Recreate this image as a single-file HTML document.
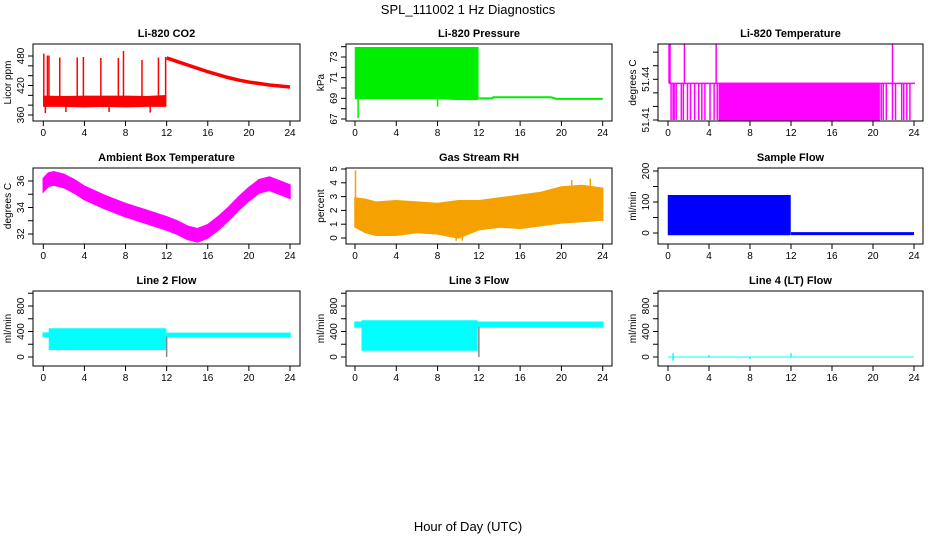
<!DOCTYPE html>
<html><head><meta charset="utf-8"><style>
html,body{margin:0;padding:0;background:#fff;}
svg{display:block;font-family:"Liberation Sans",Arial,sans-serif;}
</style></head><body>
<svg id="chart" width="936" height="540" viewBox="0 0 936 540">
<rect width="936" height="540" fill="#fff"/>
<text x="468" y="14" text-anchor="middle" font-size="13">SPL_111002  1 Hz Diagnostics</text>
<text x="468" y="531" text-anchor="middle" font-size="13">Hour of Day (UTC)</text>
</svg>
<script>
// ---- data ----
const xTicks = [0,4,8,12,16,20,24];
const panelTitles = ["Li-820 CO2","Li-820 Pressure","Li-820 Temperature","Ambient Box Temperature","Gas Stream RH","Sample Flow","Line 2 Flow","Line 3 Flow","Line 4 (LT) Flow"];
const yTitles = ["Licor ppm","kPa","degrees C","degrees C","percent","ml/min","ml/min","ml/min","ml/min"];
const yTicks = [[360,380,400,420,440,460,480],[67,68,69,70,71,72,73,74],[51.41,51.42,51.43,51.44,51.45,51.46],[32,33,34,35,36],[0,1,2,3,4,5],[0,50,100,150,200],[0,200,400,600,800,1000],[0,200,400,600,800,1000],[0,200,400,600,800,1000]];
const yLabels = [[360,420,480],[67,69,71,73],[51.41,51.44],[32,34,36],[0,1,2,3,4,5],[0,100,200],[0,400,800],[0,400,800],[0,400,800]];
const yRefLo = [360,67,51.41,32,0,0,0,0,0];
const yRefHi = [480,73,51.44,36,5,200,800,800,800];
const colors = ["#ff0000","#00ee00","#ff00ff","#ff00ff","#f5a200","#0000ff","#00ffff","#00ffff","#00ffff"];

// CO2
const co2BandT = [0.05,2,4,6,8,10,11.9];
const co2BandLo = [378,378,377,378,377,378,378];
const co2BandHi = [398,397,398,398,398,397,399];
const co2DecayT = [12,13,14,15,16,17,18,19,20,21,22,23,24];
const co2DecayV = [476,469,462,455,448,442,436,431,427,424,421,419,417];
const co2SpikeT = [0.05,0.4,0.55,1.6,3.3,3.9,5.6,7.3,7.8,9.6,11.2,11.9,0.2,2.2,6.4,10.4];
const co2SpikeV = [485,481,481,477,477,478,476,476,490,472,477,478,364,366,366,365];
// Pressure
const prT = [0.05,2,4,6,8,10,11.9];
const prLo = [69.0,69.0,69.0,69.0,69.0,68.9,68.9];
const prHi = [73.9,73.9,73.9,73.9,73.9,73.9,73.9];
const prAfterT = [12,13.3,13.4,19,19.5,24];
const prAfterV = [69.0,69.0,69.1,69.1,68.95,68.95];
const prSpikeT = [0.3,8.0];
const prSpikeV = [67.1,68.2];
// Li-820 temperature
const ltLevel = 51.437;
const ltFillT = [5.0,20.6];
const ltBarT = [0.3,0.5,0.6,0.8,1.3,1.5,1.9,2.2,2.6,3.0,3.3,3.6,4.1,4.5,4.8,20.8,21.0,21.3,21.9,22.2,22.8,23.0,23.3,23.6];
const ltSpikeT = [0.1,0.2,1.6,4.7,21.9];
const ltSpikeV = [51.466,51.466,51.466,51.466,51.466];
// Ambient
const ambT = [0,0.5,1,2,3,4,6,8,10,12,13,14,15,16,17,18,19,20,21,22,23,24];
const ambV = [35.7,36.1,36.2,36.0,35.6,35.1,34.4,33.8,33.3,32.8,32.5,32.1,31.9,32.2,32.8,33.5,34.3,35.0,35.6,35.8,35.5,35.2];
const ambHalf = 0.5;
// RH
const rhT = [0,1,2,4,6,8,10,12,14,16,18,20,22,24];
const rhLo = [0.8,0.4,0.2,0.2,0.4,0.3,0.0,0.6,0.8,0.7,0.9,1.1,1.2,1.3];
const rhHi = [2.9,2.8,2.6,2.7,2.6,2.5,2.7,2.7,2.9,3.1,3.3,3.7,3.8,3.6];
const rhSpikeT = [0.05,21,22.8,9.8,10.4];
const rhSpikeV = [4.9,4.2,4.3,-0.2,-0.2];
// Sample flow
const sfT = [0.05,11.9];
const sfLo = [-5,-5];
const sfHi = [120,120];
const sfAfterT = [12,24];
const sfAfterV = [-2,-2];
// Line 2
const l2T = [0,0.6,0.6,11.9,11.9,24];
const l2Lo = [320,320,120,120,320,320];
const l2Hi = [375,375,440,440,370,370];
const l2SpikeT = [12.0];
const l2SpikeV = [0];
// Line 3
const l3T = [0,0.7,0.7,11.8,11.8,24];
const l3Lo = [470,470,110,110,470,470];
const l3Hi = [545,545,565,565,545,545];
const l3SpikeT = [12.0];
const l3SpikeV = [0];
// Line 4
const l4T = [0,24];
const l4V = [0,0];
const l4SpikeT = [0.5,4,8,12];
const l4SpikeLo = [-60,-10,-30,-5];
const l4SpikeHi = [60,30,0,60];

// ---- layout ----
const cols = [{b0:33,b1:300,x0:43.3,x24:290},{b0:346,b1:612,x0:355,x24:602.7},{b0:658,b1:923,x0:668,x24:914}];
const rows = [{t:44,b:121,lo:[115,119,120],hi:[56,57,79.3]},{t:168,b:244,lo:[234,238,233],hi:[181,169,171]},{t:291,b:366,lo:[357,357,357],hi:[306,306,306]}];
const NS = "http://www.w3.org/2000/svg";
const svg = document.getElementById('chart');
function mk(tag, attrs, parent){const e=document.createElementNS(NS,tag);for(const k in attrs)e.setAttribute(k,attrs[k]);(parent||svg).appendChild(e);return e;}

const panels = [];
for(let i=0;i<9;i++){
  const c=cols[i%3], r=rows[Math.floor(i/3)], ri=i%3;
  const ylo=r.lo[ri], yhi=r.hi[ri];
  const xs = t => c.x0 + (t/24)*(c.x24-c.x0);
  const ys = v => ylo + (v-yRefLo[i])/(yRefHi[i]-yRefLo[i])*(yhi-ylo);
  const g = mk('g',{});
  
  
  const clip = mk('clipPath',{id:'cp'+i},g);
  mk('rect',{x:c.b0,y:r.t,width:c.b1-c.b0,height:r.b-r.t},clip);
  const plot = mk('g',{'clip-path':'url(#cp'+i+')'},g);
  
  
  panels.push({g,plot,xs,ys,c,r});
  const box = mk('rect',{x:c.b0,y:r.t,width:c.b1-c.b0,height:r.b-r.t,fill:'none',stroke:'#000','stroke-width':1},g);
  
  
  const tt = mk('text',{x:(c.b0+c.b1)/2,y:r.t-7,'text-anchor':'middle','font-size':11,'font-weight':'bold'},g);
  tt.textContent = panelTitles[i];
  
  
  xTicks.forEach(t=>{
    mk('line',{x1:xs(t),x2:xs(t),y1:r.b,y2:r.b+5,stroke:'#000'},g);
    const l=mk('text',{x:xs(t),y:r.b+15,'text-anchor':'middle','font-size':10},g);
    l.textContent=t;
    
    
  });
  yTicks[i].forEach(v=>{const y=ys(v); if(y<r.t-0.5||y>r.b+0.5) return; mk('line',{x1:c.b0-5,x2:c.b0,y1:y,y2:y,stroke:'#000'},g);});
  yLabels[i].forEach(v=>{const y=ys(v);
    const l=mk('text',{x:c.b0-9,y:y,'text-anchor':'middle','font-size':10,transform:`rotate(-90 ${c.b0-9} ${y})`},g);
    l.textContent=v;
    
    
  });
  const yt=mk('text',{x:c.b0-22,y:(r.t+r.b)/2,'text-anchor':'middle','font-size':10,transform:`rotate(-90 ${c.b0-22} ${(r.t+r.b)/2})`},g);
  yt.textContent=yTitles[i];
  
  
}
function band(p,T,Lo,Hi,col,name){
  let pts=T.map((t,k)=>p.xs(t)+','+p.ys(Hi[k]));
  for(let k=T.length-1;k>=0;k--) pts.push(p.xs(T[k])+','+p.ys(Lo[k]));
  const e=mk('polygon',{points:pts.join(' '),fill:col,stroke:col,'stroke-width':1.5},p.plot);
  
  
  return e;
}
function line(p,T,V,col,w,name){
  const e=mk('polyline',{points:T.map((t,k)=>p.xs(t)+','+p.ys(V[k])).join(' '),fill:'none',stroke:col,'stroke-width':w},p.plot);
  
  
}
function spikes(p,T,From,To,col,name){
  T.forEach((t,k)=>{const e=mk('line',{x1:p.xs(t),x2:p.xs(t),y1:p.ys(From[k]),y2:p.ys(To[k]),stroke:col,'stroke-width':1.5},p.plot);
    
    });
}
// CO2
let P=panels[0];
band(P,co2BandT,co2BandLo,co2BandHi,colors[0],'co2-band');
line(P,co2DecayT,co2DecayV,colors[0],3.5,'co2-decay-line');
spikes(P,co2SpikeT,co2SpikeT.map(()=>388),co2SpikeV,colors[0],'co2-spike');
// Pressure
P=panels[1];
band(P,prT,prLo,prHi,colors[1],'pressure-band');
line(P,prAfterT,prAfterV,colors[1],2,'pressure-line');
spikes(P,prSpikeT,prSpikeT.map(()=>69),prSpikeV,colors[1],'pressure-spike');
// Li temp
P=panels[2];
band(P,ltFillT,ltFillT.map(()=>51.41),ltFillT.map(()=>ltLevel),colors[2],'temp-fill');
line(P,[0.1,24.1],[ltLevel,ltLevel],colors[2],1.5,'temp-level');
spikes(P,ltBarT,ltBarT.map(()=>ltLevel),ltBarT.map(()=>51.41),colors[2],'temp-bar');
spikes(P,ltSpikeT,ltSpikeT.map(()=>ltLevel),ltSpikeV,colors[2],'temp-spike');
// Ambient
P=panels[3];
band(P,ambT,ambV.map(v=>v-ambHalf),ambV.map(v=>v+ambHalf),colors[3],'ambient-band');
// RH
P=panels[4];
band(P,rhT,rhLo,rhHi,colors[4],'rh-band');
spikes(P,rhSpikeT,rhSpikeT.map(()=>1.8),rhSpikeV,colors[4],'rh-spike');
// Sample flow
P=panels[5];
band(P,sfT,sfLo,sfHi,colors[5],'sample-flow-band');
line(P,sfAfterT,sfAfterV,colors[5],3,'sample-flow-line');
// Line 2
P=panels[6];
band(P,l2T,l2Lo,l2Hi,colors[6],'line2-band');
spikes(P,l2SpikeT,[320],l2SpikeV,'#888','line2-spike');
// Line 3
P=panels[7];
band(P,l3T,l3Lo,l3Hi,colors[7],'line3-band');
spikes(P,l3SpikeT,[470],l3SpikeV,'#888','line3-spike');
// Line 4
P=panels[8];
line(P,l4T,l4V,colors[8],1,'line4-line');
spikes(P,l4SpikeT,l4SpikeLo,l4SpikeHi,colors[8],'line4-spike');
</script>
</body></html>
